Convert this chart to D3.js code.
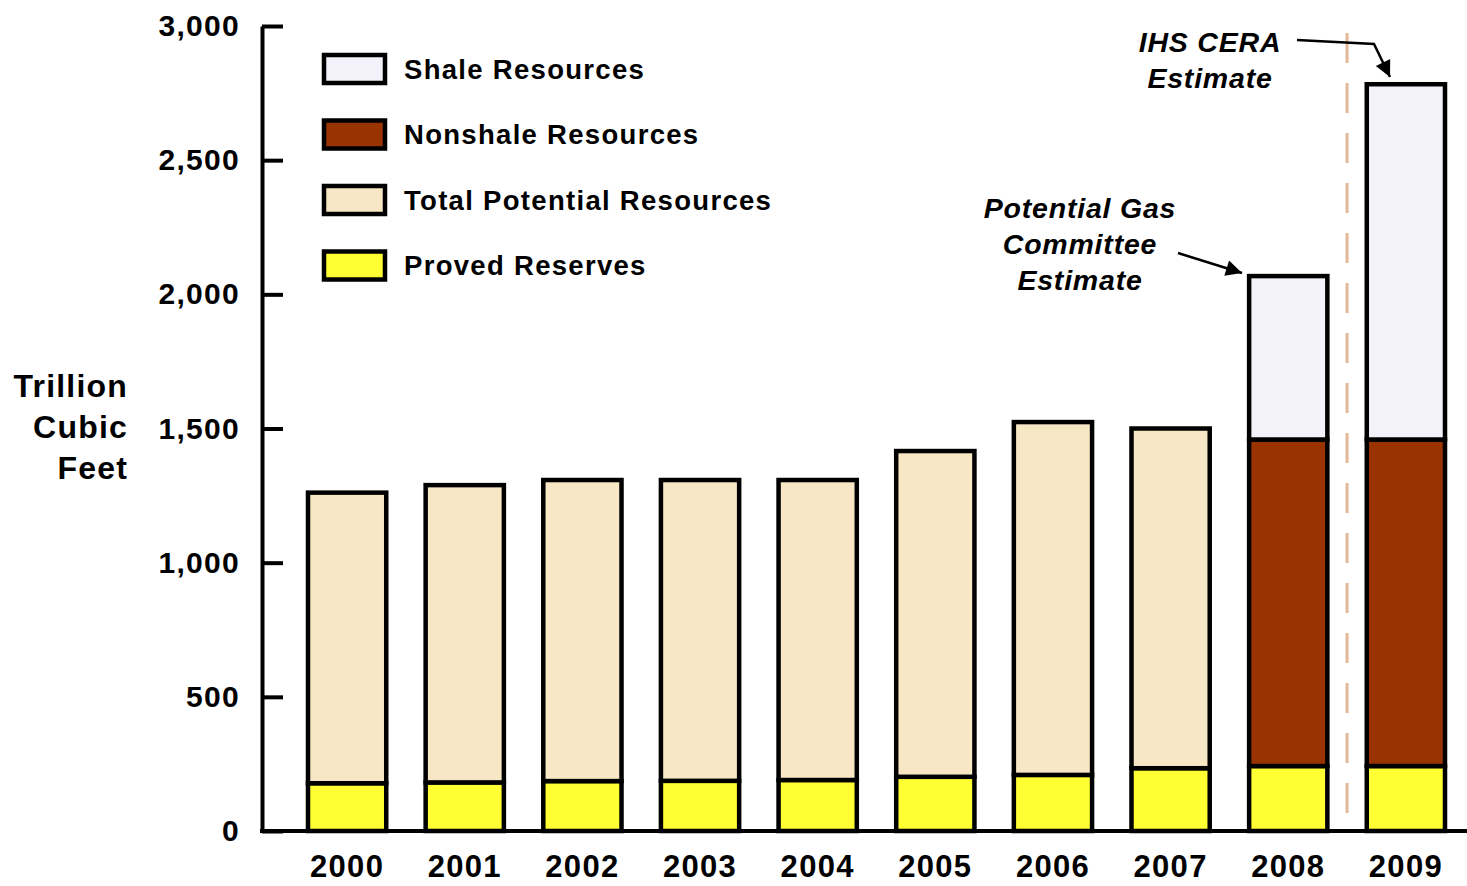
<!DOCTYPE html>
<html>
<head>
<meta charset="utf-8">
<script src="https://cdn.jsdelivr.net/npm/d3@7"></script>
<style>
  html, body { margin: 0; padding: 0; background: #fff; }
  svg { display: block; font-family: "Liberation Sans", Arial, sans-serif; font-weight: bold; }
</style>
</head>
<body>
<svg id="chart" width="1467" height="886"></svg>
<script>
// values (trillion cubic feet)
const years = ['2000','2001','2002','2003','2004','2005','2006','2007','2008','2009'];
const provedReserves     = [178, 181, 186, 187, 190, 202, 209, 234, 242, 242];
const potentialResources = [1083, 1108, 1122, 1121, 1118, 1214, 1315, 1266, 0, 0];
const nonshaleResources  = [0, 0, 0, 0, 0, 0, 0, 0, 1217, 1217];
const shaleResources     = [0, 0, 0, 0, 0, 0, 0, 0, 609, 1324];
const yTicks = [0, 500, 1000, 1500, 2000, 2500, 3000];

const legendItems = [
  { key: 'shale', label: 'Shale Resources' },
  { key: 'nonshale', label: 'Nonshale Resources' },
  { key: 'potential', label: 'Total Potential Resources' },
  { key: 'proved', label: 'Proved Reserves' }
];
const colors = {
  proved: '#ffff33',
  potential: '#f7e7c5',
  nonshale: '#993300',
  shale: '#f3f1f9'
};

const rows = years.map((yr, i) => ({
  year: yr,
  proved: provedReserves[i],
  potential: potentialResources[i],
  nonshale: nonshaleResources[i],
  shale: shaleResources[i]
}));

const svg = d3.select('#chart');
const axisX = 262, baseY = 831;

const x = d3.scaleBand()
  .domain(years)
  .range([308, 1445])
  .paddingInner(0.335)
  .paddingOuter(0);

const y = d3.scaleLinear()
  .domain([0, 3000])
  .range([baseY, 26]);

const stack = d3.stack().keys(['proved', 'potential', 'nonshale', 'shale']);
const series = stack(rows);

// separator between the two estimates
const sepX = (x('2008') + x.bandwidth() + x('2009')) / 2;
svg.append('line')
  .attr('x1', sepX).attr('x2', sepX)
  .attr('y1', 33).attr('y2', baseY)
  .attr('stroke', '#e2b899')
  .attr('stroke-width', 3)
  .attr('stroke-dasharray', '30,20');

// bars
series.forEach(s => {
  svg.append('g')
    .selectAll('rect')
    .data(s.filter(d => d[1] - d[0] > 0))
    .enter().append('rect')
    .attr('x', d => x(d.data.year))
    .attr('y', d => y(d[1]))
    .attr('width', x.bandwidth())
    .attr('height', d => y(d[0]) - y(d[1]))
    .attr('fill', colors[s.key])
    .attr('stroke', '#000')
    .attr('stroke-width', 4.5);
});

// y axis, ticks point inward
const yAxis = svg.append('g')
  .attr('transform', 'translate(' + axisX + ',0)')
  .call(d3.axisLeft(y).tickValues(yTicks).tickSizeInner(-21).tickSizeOuter(0).tickPadding(22)
    .tickFormat(d3.format(',')));
yAxis.select('.domain').attr('stroke', '#000').attr('stroke-width', 4);
yAxis.selectAll('.tick line').attr('stroke', '#000').attr('stroke-width', 4);
yAxis.selectAll('.tick text')
  .attr('fill', '#000')
  .style('font-size', '30px')
  .style('font-weight', 'bold')
  .style('font-family', '"Liberation Sans", Arial, sans-serif')
  .style('letter-spacing', '1.3px');

// x axis
const xAxis = svg.append('g')
  .attr('transform', 'translate(0,' + baseY + ')')
  .call(d3.axisBottom(x).tickSize(0).tickPadding(24));
xAxis.select('.domain').remove();
xAxis.selectAll('.tick text')
  .attr('fill', '#000')
  .style('font-size', '31px')
  .style('font-weight', 'bold')
  .style('font-family', '"Liberation Sans", Arial, sans-serif')
  .style('letter-spacing', '1.3px');
svg.append('line')
  .attr('x1', axisX - 2).attr('x2', 1467)
  .attr('y1', baseY).attr('y2', baseY)
  .attr('stroke', '#000').attr('stroke-width', 4);

// y title
const yTitle = ['Trillion', 'Cubic', 'Feet'];
svg.append('g').selectAll('text')
  .data(yTitle)
  .enter().append('text')
  .attr('x', 128)
  .attr('y', (d, i) => 385 + i * 41)
  .attr('dy', '0.36em')
  .attr('text-anchor', 'end')
  .style('font-size', '32px')
  .style('letter-spacing', '1.2px')
  .text(d => d);

// legend
const legend = svg.append('g').selectAll('g')
  .data(legendItems)
  .enter().append('g')
  .attr('transform', (d, i) => 'translate(324,' + (55 + i * 65.5) + ')');
legend.append('rect')
  .attr('width', 61).attr('height', 28)
  .attr('fill', d => colors[d.key])
  .attr('stroke', '#000').attr('stroke-width', 4.5);
legend.append('text')
  .attr('x', 80).attr('y', 14).attr('dy', '0.36em')
  .style('font-size', '27.5px')
  .style('letter-spacing', '1.3px')
  .text(d => d.label);

// annotations
svg.append('defs').append('marker')
  .attr('id', 'head')
  .attr('viewBox', '0 0 10 10')
  .attr('refX', 10).attr('refY', 5)
  .attr('markerWidth', 20).attr('markerHeight', 16)
  .attr('markerUnits', 'userSpaceOnUse')
  .attr('orient', 'auto')
  .append('path').attr('d', 'M0,0 L10,5 L0,10 Z').attr('fill', '#000');

const noteStyle = sel => sel
  .attr('text-anchor', 'middle')
  .attr('dy', '0.36em')
  .style('font-size', '28.5px')
  .style('font-style', 'italic')
  .style('letter-spacing', '0.8px');

const ihs = ['IHS CERA', 'Estimate'];
svg.append('g').selectAll('text').data(ihs).enter().append('text')
  .attr('x', 1210).attr('y', (d, i) => 42 + i * 36)
  .call(noteStyle).text(d => d);

const pgc = ['Potential Gas', 'Committee', 'Estimate'];
svg.append('g').selectAll('text').data(pgc).enter().append('text')
  .attr('x', 1080).attr('y', (d, i) => 208 + i * 36)
  .call(noteStyle).text(d => d);

svg.append('path')
  .attr('d', 'M1297,40 L1374,44 L1390,77')
  .attr('fill', 'none').attr('stroke', '#000').attr('stroke-width', 2.5)
  .attr('marker-end', 'url(#head)');
svg.append('path')
  .attr('d', 'M1178,253 L1242,273')
  .attr('fill', 'none').attr('stroke', '#000').attr('stroke-width', 2.5)
  .attr('marker-end', 'url(#head)');
</script>
</body>
</html>
